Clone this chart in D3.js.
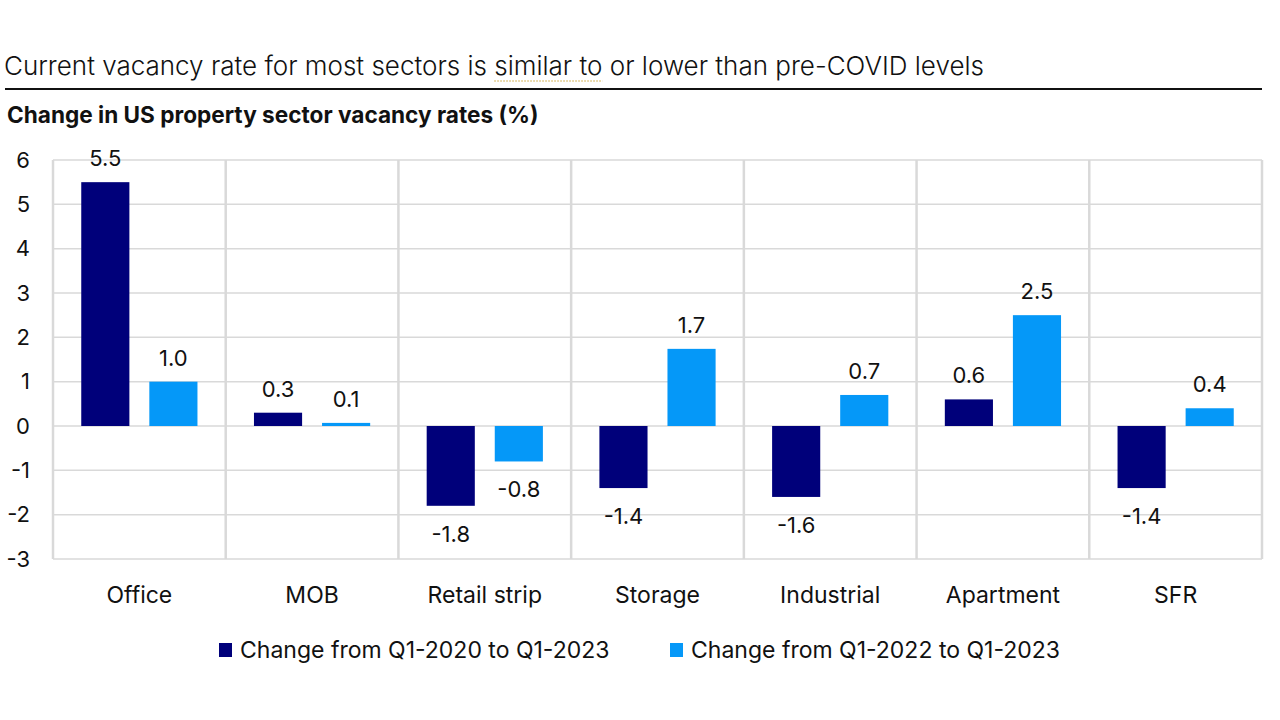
<!DOCTYPE html>
<html>
<head>
<meta charset="UTF-8">
<title>US property sector vacancy rates</title>
<style>
    body { margin: 0; background: #fff; }
    svg text { font-family: Inter, "Noto Sans", sans-serif; fill: #111; }
</style>
<script src="https://cdn.jsdelivr.net/npm/d3@7/dist/d3.min.js"></script>
</head>
<body>
<svg id="chart" width="1280" height="720"></svg>
<script>
    // data
    var sectors = ['Office', 'MOB', 'Retail strip', 'Storage', 'Industrial', 'Apartment', 'SFR'];
    var change2020 = [5.5, 0.3, -1.8, -1.4, -1.6, 0.6, -1.4];
    var change2022 = [1.0, 0.07, -0.8, 1.74, 0.7, 2.5, 0.4];
    var seriesNames = ['Change from Q1-2020 to Q1-2023', 'Change from Q1-2022 to Q1-2023'];
    var yTicks = [6, 5, 4, 3, 2, 1, 0, -1, -2, -3];

    var colors = ['#00007a', '#0598f8'];
    var series = [change2020, change2022];
    var fontFam = 'Inter, "Noto Sans", sans-serif';

    // plain hyphen for negatives, like the original
    var fmt1 = function (v) { return d3.format('.1f')(v).replace('\u2212', '-'); };
    var fmt0 = function (v) { return d3.format('d')(v).replace('\u2212', '-'); };

    var svg = d3.select('#chart');
    var plotLeft = 53, plotRight = 1262, plotTop = 160, plotBottom = 559;

    var x = d3.scaleBand().domain(sectors).range([plotLeft, plotRight]);
    var xs = d3.scaleBand().domain([0, 1]).range([0, x.bandwidth()])
            .paddingInner(0.293).paddingOuter(0.415);
    var y = d3.scaleLinear().domain([-3, 6]).range([plotBottom, plotTop]);

    // title + rule
    var title = svg.append('text')
            .attr('x', 4).attr('y', 75)
            .style('font-size', '26px').style('font-weight', 300);
    title.append('tspan').text('Current vacancy rate for most sectors is ');
    title.append('tspan').text('similar to');
    title.append('tspan').text(' or lower than pre-COVID levels');

    var tn = title.node();
    var pre = 'Current vacancy rate for most sectors is '.length;
    var x0 = 4 + tn.getSubStringLength(0, pre);
    var w0 = tn.getSubStringLength(pre, 'similar to'.length);
    svg.append('line')
            .attr('x1', x0).attr('x2', x0 + w0)
            .attr('y1', 81).attr('y2', 81)
            .attr('stroke', '#c9a030').attr('stroke-width', 1.2)
            .attr('stroke-dasharray', '1.5,1.5');

    svg.append('line')
            .attr('x1', 5).attr('x2', 1262)
            .attr('y1', 89).attr('y2', 89)
            .attr('stroke', '#111').attr('stroke-width', 2);

    svg.append('text')
            .attr('x', 7).attr('y', 123)
            .style('font-size', '22.6px').style('font-weight', 700)
            .text('Change in US property sector vacancy rates (%)');

    // gridlines
    var grid = svg.append('g').attr('stroke', '#d9d9d9');
    grid.selectAll('line.h').data(yTicks).enter().append('line')
            .attr('class', 'h')
            .attr('x1', plotLeft).attr('x2', plotRight)
            .attr('y1', function (d) { return y(d); })
            .attr('y2', function (d) { return y(d); })
            .attr('stroke-width', 1.5);
    var edges = sectors.map(function (s) { return x(s); }).concat([plotRight]);
    grid.selectAll('line.v').data(edges).enter().append('line')
            .attr('class', 'v')
            .attr('x1', function (d) { return d; }).attr('x2', function (d) { return d; })
            .attr('y1', plotTop).attr('y2', plotBottom)
            .attr('stroke-width', 2.5);

    // y axis labels
    var yAxis = d3.axisLeft(y).tickValues(yTicks).tickSize(0).tickPadding(0)
            .tickFormat(fmt0);
    var ya = svg.append('g').attr('transform', 'translate(30,0)').call(yAxis);
    ya.select('.domain').remove();
    ya.selectAll('text').style('font-size', '22px').style('font-family', fontFam)
            .attr('fill', '#111');

    // x axis labels
    var xAxis = d3.axisBottom(x).tickSize(0).tickPadding(0);
    var xa = svg.append('g').attr('transform', 'translate(0,' + (plotBottom + 28) + ')').call(xAxis);
    xa.select('.domain').remove();
    xa.selectAll('text').style('font-size', '23px').style('font-family', fontFam)
            .attr('fill', '#111');

    // bars
    var groups = svg.selectAll('g.sector').data(sectors).enter().append('g')
            .attr('class', 'sector')
            .attr('transform', function (d) { return 'translate(' + x(d) + ',0)'; });

    [0, 1].forEach(function (k) {
        groups.append('rect')
                .attr('x', xs(k))
                .attr('width', xs.bandwidth())
                .attr('y', function (d, i) { return y(Math.max(0, series[k][i])); })
                .attr('height', function (d, i) { return Math.abs(y(series[k][i]) - y(0)); })
                .attr('fill', colors[k]);

        groups.append('text')
                .attr('x', xs(k) + xs.bandwidth() / 2)
                .attr('y', function (d, i) {
                    var v = series[k][i];
                    return v >= 0 ? y(v) - 16 : y(v) + 36;
                })
                .attr('text-anchor', 'middle')
                .style('font-size', '22px')
                .text(function (d, i) { return fmt1(series[k][i]); });
    });

    // legend
    var legX = [219, 670];
    var leg = svg.selectAll('g.legend').data(seriesNames).enter().append('g')
            .attr('class', 'legend')
            .attr('transform', function (d, i) { return 'translate(' + legX[i] + ',643)'; });
    leg.append('rect').attr('width', 13).attr('height', 14)
            .attr('fill', function (d, i) { return colors[i]; });
    leg.append('text').attr('x', 21).attr('y', 15)
            .style('font-size', '23px')
            .text(function (d) { return d; });
</script>
</body>
</html>
